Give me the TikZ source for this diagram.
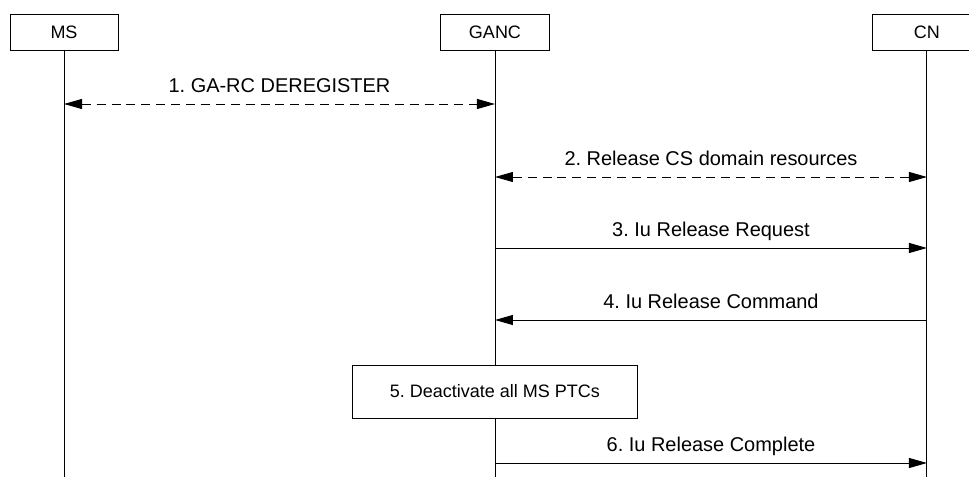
\documentclass[tikz,border=0pt]{standalone}
\usepackage{fontspec}
\setmainfont{Liberation Sans}
\usepackage{tikz}
\usetikzlibrary{positioning,arrows.meta,calc}
\newcommand{\entfont}{\fontsize{12.8}{15}\selectfont}
\newcommand{\msgfont}{\fontsize{14.2}{17}\selectfont}
\frenchspacing

\begin{document}
\begin{tikzpicture}[
        ent/.style={draw, line width=0.7pt, minimum width=2.7cm, minimum height=0.9cm,
                    inner sep=0pt, font=\entfont},
        act/.style={draw, line width=0.7pt, fill=white, minimum width=7.125cm,
                    minimum height=1.325cm, inner sep=0pt, font=\entfont},
        life/.style={line width=0.7pt},
        lbl/.style={midway, anchor=base, yshift=0.29cm, inner sep=0pt, font=\msgfont},
        msg/.style={-{Triangle[length=4.5mm, width=2.5mm]}, line width=0.7pt},
        dmsg/.style={{Triangle[length=4.5mm, width=2.5mm]}-{Triangle[length=4.5mm, width=2.5mm]},
                     line width=0.7pt, dash pattern=on 6.4pt off 4.2pt}
    ]
    \useasboundingbox (0,0) rectangle (24.225,-11.925);
    \node[ent] (ms) at (1.6,-0.8) {MS};
    \node[ent, right=8.05cm of ms] (ganc) {GANC};
    \node[ent, right=8.075cm of ganc] (cn) {CN};
    \coordinate (bot) at (0,-11.925);
    \draw[life] (ms.south) -- (ms |- bot);
    \draw[life] (ganc.south) -- (ganc |- bot);
    \draw[life] (cn.south) -- (cn |- bot);
    \coordinate (r1) at (0,-2.6);
    \coordinate (r2) at (0,-4.425);
    \coordinate (r3) at (0,-6.2);
    \coordinate (r4) at (0,-8.0);
    \coordinate (r5) at (0,-9.7875);
    \coordinate (r6) at (0,-11.575);
    \draw[dmsg] (ms |- r1) -- node[lbl] {1. GA-RC DEREGISTER} (ganc |- r1);
    \draw[dmsg] (ganc |- r2) -- node[lbl] {2. Release CS domain resources} (cn |- r2);
    \draw[msg] (ganc |- r3) -- node[lbl] {3. Iu Release Request} (cn |- r3);
    \draw[msg] (cn |- r4) -- node[lbl] {4. Iu Release Command} (ganc |- r4);
    \node[act] (deact) at (ganc |- r5) {5. Deactivate all MS PTCs};
    \draw[msg] (ganc |- r6) -- node[lbl] {6. Iu Release Complete} (cn |- r6);
\end{tikzpicture}
\end{document}
